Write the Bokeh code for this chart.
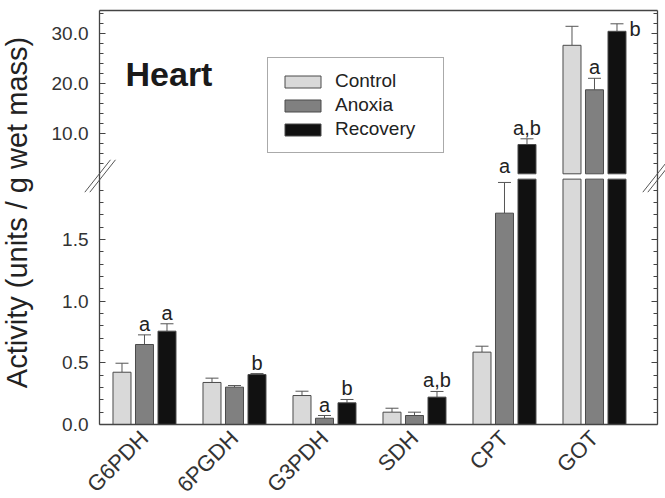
import math
import numpy as np
from bokeh.plotting import figure
from bokeh.models import (ColumnDataSource, Range1d, LinearAxis, FixedTicker,
                          NumeralTickFormatter, Whisker, TeeHead, Legend, LegendItem, Arrow)
from bokeh.transform import dodge
from bokeh.core.properties import value
from bokeh.embed import file_html
from bokeh.resources import INLINE

# ---------------- data ----------------
categories = ["G6PDH", "6PGDH", "G3PDH", "SDH", "CPT", "GOT"]
series = ["Control", "Anoxia", "Recovery"]

control = [0.424, 0.341, 0.235, 0.100, 0.587, 27.7]
control_err = [0.073, 0.035, 0.035, 0.032, 0.048, 3.8]
anoxia = [0.649, 0.303, 0.051, 0.073, 1.714, 18.8]
anoxia_err = [0.078, 0.013, 0.022, 0.027, 0.249, 2.3]
recovery = [0.757, 0.405, 0.176, 0.222, 7.86, 30.5]
recovery_err = [0.060, 0.008, 0.027, 0.046, 1.14, 1.5]

control_letters = ["", "", "", "", "", ""]
anoxia_letters = ["a", "", "a", "", "a", "a"]
recovery_letters = ["a", "b", "b", "a,b", "a,b", "b"]

lower_ticks = [0.0, 0.5, 1.0, 1.5]
lower_minor = [0.1, 0.2, 0.3, 0.4, 0.6, 0.7, 0.8, 0.9, 1.1, 1.2, 1.3, 1.4, 1.6, 1.7, 1.8, 1.9]
upper_ticks = [10.0, 20.0, 30.0]
upper_minor = [4, 6, 8, 12, 14, 16, 18, 22, 24, 26, 28, 32, 34]

# ---------------- layout / style ----------------
LOWER_TOP = 1.99      # top of the lower (0-2) segment
UPPER_BASE = 2.0      # bottom of the upper segment
FRAME_X = (-0.5, 5.7)          # left / right axis positions (x data)
FRAME_TOP_LOW = 3.3577         # top border in lower-segment units
FRAME_TOP_UP = 34.66           # top border in upper-segment units
FONT = "Liberation Sans"
colors = ["#d9d9d9", "#808080", "#111111"]
offsets = [-0.25, 0.0, 0.25]
BAR_W = 0.2
OUTLINE = "#4a4a4a"
AXIS_C = "#444444"
DEFAULT_NUDGE = (0, -11)
letter_nudge = {("CPT", "Anoxia"): (0, -16), ("GOT", "Recovery"): (18, 5)}

p = figure(width=665, height=498, output_backend="svg", toolbar_location=None,
           x_range=Range1d(-1.6, 5.789), y_range=Range1d(-0.6001, 3.4388),
           x_axis_location=None, y_axis_location=None,
           min_border=0, min_border_left=0, min_border_right=0,
           min_border_top=0, min_border_bottom=0)
p.extra_y_ranges = {"up": Range1d(-62.94, 36.66)}
p.grid.visible = False
p.background_fill_color = "white"
p.border_fill_color = "white"
p.outline_line_color = None

def style_y(ax, ticks, minor, labels=True, line=True):
    ax.ticker = FixedTicker(ticks=ticks, minor_ticks=minor)
    ax.formatter = NumeralTickFormatter(format="0.0")
    ax.axis_line_color = AXIS_C if line else None
    ax.axis_line_width = 1.3
    ax.major_tick_line_color = AXIS_C
    ax.minor_tick_line_color = AXIS_C
    ax.major_tick_in = 6
    ax.major_tick_out = 0
    ax.minor_tick_in = 4
    ax.minor_tick_out = 0
    ax.major_label_standoff = 11
    ax.major_label_text_font = FONT
    ax.major_label_text_font_size = "19px"
    ax.major_label_text_color = "#333333" if labels else None

def frame_line(loc, side, bounds, y_range_name="default"):
    ax = LinearAxis(fixed_location=loc, bounds=bounds, y_range_name=y_range_name)
    ax.ticker = FixedTicker(ticks=[])
    ax.major_label_text_color = None
    ax.major_tick_line_color = None
    ax.minor_tick_line_color = None
    ax.axis_line_color = AXIS_C
    ax.axis_line_width = 1.3
    p.add_layout(ax, side)

# left, lower segment (carries the axis title)
ax_l = LinearAxis(fixed_location=FRAME_X[0], bounds=(0, 3.463))
style_y(ax_l, lower_ticks, lower_minor, line=False)
ax_l.axis_label = "Activity (units / g wet mass)"
ax_l.axis_label_text_font = FONT
ax_l.axis_label_text_font_size = "29px"
ax_l.axis_label_text_font_style = "normal"
ax_l.axis_label_text_color = "#222222"
ax_l.axis_label_standoff = 26
p.add_layout(ax_l, "left")
frame_line(FRAME_X[0], "left", (0, FRAME_TOP_LOW))

ax_lu = LinearAxis(fixed_location=FRAME_X[0], y_range_name="up", bounds=(UPPER_BASE, FRAME_TOP_UP))
style_y(ax_lu, upper_ticks, upper_minor, line=False)
p.add_layout(ax_lu, "left")

ax_r = LinearAxis(fixed_location=FRAME_X[1], bounds=(0, FRAME_TOP_LOW))
style_y(ax_r, lower_ticks, lower_minor, labels=False)
p.add_layout(ax_r, "right")
ax_ru = LinearAxis(fixed_location=FRAME_X[1], y_range_name="up", bounds=(UPPER_BASE, FRAME_TOP_UP))
style_y(ax_ru, upper_ticks, upper_minor, labels=False, line=False)
p.add_layout(ax_ru, "right")

ax_b = LinearAxis(fixed_location=0, bounds=FRAME_X)
ax_b.ticker = FixedTicker(ticks=list(range(len(categories))))
ax_b.major_label_overrides = {i: c for i, c in enumerate(categories)}
ax_b.major_label_orientation = math.pi / 4
ax_b.major_label_text_font = FONT
ax_b.major_label_text_font_size = "22px"
ax_b.major_label_text_color = "#333333"
ax_b.major_label_standoff = 10
ax_b.major_tick_in = 0
ax_b.major_tick_out = 0
ax_b.minor_tick_line_color = None
ax_b.axis_line_color = AXIS_C
ax_b.axis_line_width = 1.3
p.add_layout(ax_b, "below")

frame_line(FRAME_TOP_LOW, "above", FRAME_X)

# ---------------- bars, error bars, letters ----------------
vals = [control, anoxia, recovery]
errs = [control_err, anoxia_err, recovery_err]
lets = [control_letters, anoxia_letters, recovery_letters]
idx = np.arange(len(categories))
legend_items = []

for s, v, e, lt, col, off in zip(series, vals, errs, lets, colors, offsets):
    v = np.array(v, dtype=float)
    e = np.array(e, dtype=float)
    xs = dodge("x", off, range=p.x_range)

    low = ColumnDataSource(dict(x=idx, top=np.minimum(v, LOWER_TOP)))
    r = p.vbar(x=xs, top="top", width=BAR_W, source=low, fill_color=col,
               line_color=OUTLINE, line_width=1)
    legend_items.append(LegendItem(label=s, renderers=[r]))

    hi = v > UPPER_BASE
    up = ColumnDataSource(dict(x=idx[hi], top=v[hi], bottom=np.full(hi.sum(), UPPER_BASE)))
    p.vbar(x=xs, top="top", bottom="bottom", width=BAR_W, source=up, fill_color=col,
           line_color=OUTLINE, line_width=1, y_range_name="up")

    for mask, rng in ((~hi, "default"), (hi, "up")):
        wsrc = ColumnDataSource(dict(x=idx[mask], lower=v[mask], upper=(v + e)[mask]))
        kw = {} if rng == "default" else {"y_range_name": "up"}
        w = Whisker(base=xs, lower="lower", upper="upper", source=wsrc,
                    line_color="#555555", line_width=1,
                    upper_head=TeeHead(size=13, line_color="#555555", line_width=1),
                    lower_head=None, **kw)
        p.add_layout(w)

        t_idx = [int(i) for i in idx[mask] if lt[i]]
        if t_idx:
            nd = [letter_nudge.get((categories[i], s), DEFAULT_NUDGE) for i in t_idx]
            tsrc = ColumnDataSource(dict(x=t_idx, y=[float((v + e)[i]) for i in t_idx],
                                         text=[lt[i] for i in t_idx],
                                         dx=[n[0] for n in nd], dy=[n[1] for n in nd]))
            p.text(x=xs, y="y", text="text", x_offset="dx", y_offset="dy", source=tsrc,
                   text_font=value(FONT), text_font_size="20px", text_color="#222222",
                   text_align="center", text_baseline="middle", **kw)

# ---------------- decorations ----------------
p.text(x=[-0.211], y=[22.06], text=["Heart"], y_range_name="up",
       text_font=value(FONT), text_font_style="bold", text_font_size="34px",
       text_color="#1a1a1a", text_align="left", text_baseline="middle")

legend = Legend(items=legend_items, location=(267, 345), orientation="vertical",
                glyph_width=45, glyph_height=15, label_standoff=10, label_width=96,
                label_height=22, spacing=2, padding=12, margin=0,
                label_text_font=FONT, label_text_font_size="19px", label_text_color="#222222",
                border_line_color="#555555", border_line_width=1.2,
                background_fill_color="white", background_fill_alpha=1)
p.add_layout(legend)

# axis-break marks (decoration): two parallel strokes on each side
for shift in (0.0, FRAME_X[1] - FRAME_X[0]):
    for d in (0.0, 5 / 90.0):
        p.add_layout(Arrow(x_start=-0.663 + shift + d, y_start=-1.68,
                           x_end=-0.378 + shift + d, y_end=4.8,
                           start=None, end=None, line_color="#555555", line_width=1,
                           y_range_name="up"))

open("out.html", "w").write(file_html(p, INLINE))
